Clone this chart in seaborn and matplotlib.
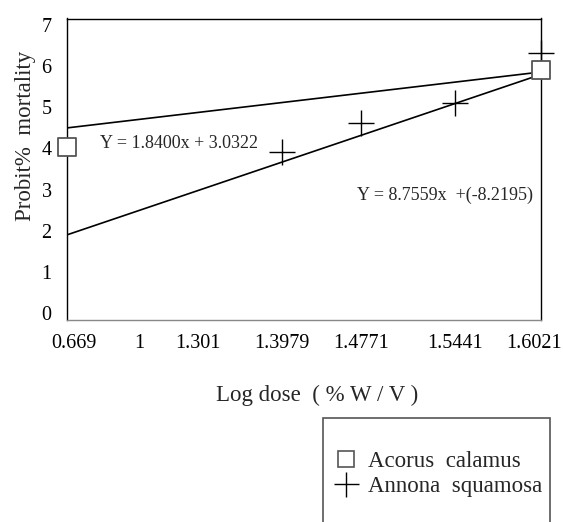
import numpy as np
import pandas as pd
import matplotlib
matplotlib.use("Agg")
import matplotlib.pyplot as plt
from matplotlib.lines import Line2D
from matplotlib.patches import Rectangle
import matplotlib.transforms as mtransforms
import seaborn as sns

# ---- data ----
dose_ticks = [0.669, 1, 1.301, 1.3979, 1.4771, 1.5441, 1.6021]
tick_labels = ["0.669", "1", "1.301", "1.3979", "1.4771", "1.5441", "1.6021"]
acorus_x = [0.669, 1.6021]
acorus_y = [4.03, 5.90]
annona_x = [1.3979, 1.4771, 1.5441, 1.6021]
annona_y = [3.91, 4.62, 5.10, 6.32]
acorus_fit_x = [0.669, 1.6021]
acorus_fit_y = [4.50, 5.86]
annona_fit_x = [0.669, 1.6021]
annona_fit_y = [1.90, 5.80]
eq_acorus = "Y = 1.8400x + 3.0322"
eq_annona = "Y = 8.7559x  +(-8.2195)"
series_names = ["Acorus  calamus", "Annona  squamosa"]

# ---- layout (axis warp: where each tick sits along the axis) ----
tick_frac = [0.0, 0.152, 0.276, 0.454, 0.620, 0.819, 1.0]

sns.set_theme(style="white")
plt.rcParams["font.family"] = ["Liberation Serif", "DejaVu Serif"]

W, H = 563, 522
fig = plt.figure(figsize=(W/100, H/100), dpi=100)
ax = fig.add_axes([67/W, 1-320/H, 474/W, 301.5/H])

fwd = lambda v: np.interp(v, dose_ticks, tick_frac)
inv = lambda v: np.interp(v, tick_frac, dose_ticks)
ax.set_xscale("function", functions=(fwd, inv))
ax.set_xlim(dose_ticks[0], dose_ticks[-1])
ax.set_ylim(-0.17, 7.16)

fit_df = pd.concat([
    pd.DataFrame({"x": acorus_fit_x, "y": acorus_fit_y, "s": "a"}),
    pd.DataFrame({"x": annona_fit_x, "y": annona_fit_y, "s": "b"}),
])
sns.lineplot(data=fit_df, x="x", y="y", units="s", estimator=None,
             color="black", lw=1.2, ax=ax, legend=False, zorder=2)

sns.scatterplot(x=annona_x, y=annona_y, marker="+", s=330, color="black",
                linewidth=1.0, ax=ax, zorder=3, clip_on=False)
sns.scatterplot(x=acorus_x, y=acorus_y, marker="s", s=180, facecolor="white",
                edgecolor="#555555", linewidth=1.3, ax=ax, zorder=4, clip_on=False)

ax.set_xticks(dose_ticks)
ax.set_xticklabels(tick_labels)
ax.set_yticks(range(0, 8))
ax.tick_params(axis="both", length=0, labelsize=14.5, colors="black")
ax.tick_params(axis="x", pad=10)
ax.tick_params(axis="y", pad=11)

# nudge first and last x tick labels inward
xlabels = ax.get_xticklabels()
xlabels[0].set_transform(xlabels[0].get_transform() +
                         mtransforms.ScaledTranslation(7/100, 0, fig.dpi_scale_trans))
xlabels[-1].set_transform(xlabels[-1].get_transform() +
                          mtransforms.ScaledTranslation(-7/100, 0, fig.dpi_scale_trans))

ax.set_xlabel("Log dose  ( % W / V )", fontsize=16.5)
ax.set_ylabel("Probit%  mortality", fontsize=16.5)
ax.xaxis.set_label_coords(0.527, -0.215)
ax.yaxis.set_label_coords(-0.066, 0.61)

for side in ["left", "right", "top"]:
    ax.spines[side].set_color("black")
    ax.spines[side].set_linewidth(1.0)
ax.spines["bottom"].set_color("#888888")
ax.spines["bottom"].set_linewidth(1.0)

ax.text(0.07, 0.587, eq_acorus, transform=ax.transAxes, fontsize=13,
        va="center", ha="left")
ax.text(0.612, 0.415, eq_annona, transform=ax.transAxes, fontsize=13,
        va="center", ha="left")

# legend box (runs off the bottom of the figure, as in the reference)
fig.patches.append(Rectangle((323/W, -0.2), (550-323)/W, 0.2 + 1-418/H,
                             transform=fig.transFigure, fill=False,
                             edgecolor="#555555", linewidth=1.2, clip_on=False))
handles = [
    Line2D([], [], ls="", marker="s", ms=12, mfc="white", mec="#555555", mew=1.2),
    Line2D([], [], ls="", marker="+", ms=18, color="black", mew=1.0),
]
leg = fig.legend(handles, series_names, loc="center left",
                 bbox_to_anchor=(335/W, 1-474/H), fontsize=16.5,
                 frameon=False, borderpad=0,
                 handletextpad=0.45, handlelength=1.0, labelspacing=0.2,
                 borderaxespad=0)

fig.savefig("out.png", dpi=100)
